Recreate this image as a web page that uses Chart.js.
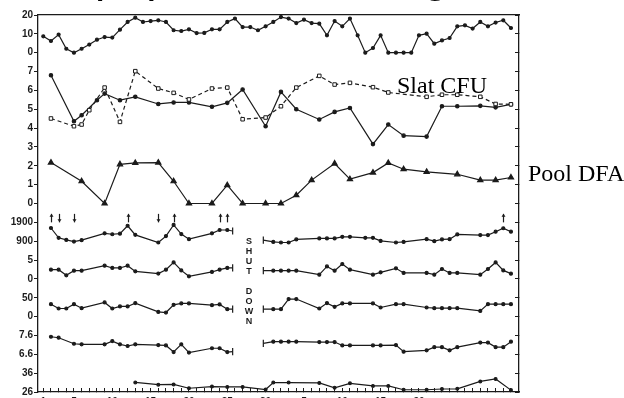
<!DOCTYPE html>
<html>
<head>
<meta charset="utf-8">
<script src="https://cdn.jsdelivr.net/npm/chart.js@4.4.1/dist/chart.umd.min.js"></script>
<style>
  html, body { margin: 0; padding: 0; background: #fff; overflow: hidden; }
  #wrap { width: 624px; height: 398px; overflow: hidden; }
</style>
</head>
<body>
<div id="wrap"><canvas id="chart" width="624" height="420"></canvas></div>
<script>
// tick labels, bottom to top (one per axis unit)
const yTickLabels = ['26', '36', '6.6', '7.6', '0', '50', '0', '5', '900', '1900',
                     '0', '1', '2', '3', '4', '5', '6', '7', '0', '10', '20'];
const xTickDays = [1, 5, 10, 15, 20, 25, 30, 35, 40, 45, 50];
const xTickLabels = ['1', '5', '10', '15', '20', '25', '30', '5', '10', '15', '20'];

// top strip (0 - 20)
const topDays = [1, 2, 3, 4, 5, 6, 7, 8, 9, 10, 11, 12, 13, 14, 15, 16, 17, 18, 19, 20, 21,
                 22, 23, 24, 25, 26, 27, 28, 29, 30, 31, 32, 33, 34, 35, 36, 37, 38, 39, 40, 41,
                 42, 43, 44, 45, 46, 47, 48, 49, 50, 51, 52, 53, 54, 55, 56, 57, 58, 59, 60, 61, 62];
const topVals = [8.7, 6.2, 9.6, 2.1, 0, 2.1, 4.3, 6.9, 8.3, 8, 12.2, 16.3, 18.6, 16.3, 16.8, 17.2,
                 16.3, 11.9, 11.5, 12.4, 10.4, 10.5, 12.4, 12.4, 16.3, 18.1, 13.6, 13.6, 11.9, 14,
                 16.3, 18.9, 18.1, 15.7, 17.5, 15.7, 15.4, 9.2, 16.8, 14, 18.1, 9.2, 0, 2.5, 9.2,
                 0, 0, 0, 0, 9.2, 10.1, 4.8, 6.5, 7.8, 14, 14.5, 12.8, 16.3, 14, 16, 17.2, 13.1];

// middle block (0 - 7)
const cfuDays = [2, 5, 6, 7, 9, 11, 13, 16, 18, 20, 23, 25, 27, 30, 32, 34, 37, 39, 41, 44, 46,
                 51, 53, 55, 58, 60, 62];
const cfuVals = [4.51, 4.1, 4.19, 4.95, 6.15, 4.33, 7.02, 6.1, 5.87, 5.52, 6.1, 6.15, 4.47, 4.56,
                 5.16, 6.15, 6.77, 6.31, 6.4, 6.17, 5.89, 5.66, 5.77, 5.77, 5.66, 5.28, 5.26];
const slatDays = [2, 5, 6, 8, 9, 11, 13, 16, 18, 20, 23, 25, 27, 30, 32, 34, 37, 39, 41, 44, 46,
                  48, 51, 53, 55, 58, 60, 62];
const slatVals = [6.8, 4.36, 4.68, 5.48, 5.83, 5.48, 5.66, 5.28, 5.36, 5.36, 5.13, 5.34, 6.05, 4.1,
                  5.92, 5.0, 4.46, 4.86, 5.07, 3.15, 4.19, 3.6, 3.55, 5.16, 5.16, 5.18, 5.1, 5.26];
const poolDays = [2, 6, 9, 11, 13, 16, 18, 20, 23, 25, 27, 30, 32, 34, 36, 39, 41, 44, 46, 48,
                  51, 55, 58, 60, 62];
const poolVals = [2.17, 1.18, 0, 2.08, 2.15, 2.17, 1.18, 0, 0, 0.97, 0, 0, 0, 0.44, 1.24, 2.12,
                  1.29, 1.64, 2.15, 1.82, 1.68, 1.55, 1.24, 1.24, 1.38];

// lower strips, broken by the shut down
const shutStart = 25.7;
const shutEnd = 29.7;
const lowDaysL = [2, 3, 4, 5, 6, 9, 10, 11, 12, 13, 16, 17, 18, 19, 20, 23, 24, 25, shutStart];
const lowDaysR = [shutEnd, 31, 32, 33, 34, 37, 38, 39, 40, 41, 44, 45, 47, 48, 51, 52, 53, 54, 55,
                  58, 59, 60, 61, 62];
const p3DaysR = [shutEnd, 31, 32, 33, 34, 37, 38, 39, 40, 41, 43, 44, 45, 47, 48, 51, 52, 53, 54,
                 55, 58, 59, 60, 61, 62];
const p6DaysL = [2, 3, 5, 6, 9, 10, 11, 12, 13, 16, 17, 18, 19, 20, 23, 24, 25, shutStart];

const p3ValsL = [1600, 1078, 970, 880, 954, 1316, 1270, 1300, 1720, 1236, 830, 1170, 1765, 1278,
                 1008, 1316, 1495, 1495, 1440];
const p3ValsR = [954, 862, 830, 830, 992, 1046, 1046, 1046, 1132, 1132, 1078, 1078, 916, 830, 862,
                 1008, 900, 992, 1008, 1262, 1224, 1224, 1403, 1586, 1403];
const p4ValsL = [2.45, 2.45, 0.95, 2.18, 2.18, 3.5, 2.9, 2.9, 3.5, 2.0, 1.4, 2.45, 4.37, 2.26,
                 0.68, 1.84, 2.45, 2.9, 2.9];
const p4ValsR = [2.18, 2.18, 2.18, 2.18, 2.18, 1.13, 3.32, 2.18, 3.95, 2.45, 1.13, 1.74, 2.8, 1.58,
                 1.58, 1.13, 2.63, 1.58, 1.58, 1.13, 2.63, 4.37, 2.26, 1.39];
const p5ValsL = [33, 21.5, 21.5, 33, 22.3, 37.6, 21.5, 26.9, 26.9, 35.8, 12.4, 10.8, 31.2, 34.9,
                 34.9, 30.4, 32.3, 19.6, 19.6];
const p5ValsR = [19.6, 19.6, 19.6, 46.5, 46.5, 21.5, 35.8, 25.8, 34.9, 34.9, 34.9, 24.2, 33, 33,
                 24.2, 22.3, 22.3, 22.3, 22.3, 15.1, 33, 33, 33, 33];
const p6ValsL = [7.53, 7.48, 7.16, 7.13, 7.13, 7.3, 7.13, 7.04, 7.13, 7.09, 7.07, 6.72, 7.13, 6.69,
                 6.92, 6.92, 6.72, 6.74];
const p6ValsR = [7.18, 7.27, 7.27, 7.27, 7.27, 7.25, 7.25, 7.25, 7.07, 7.07, 7.07, 7.07, 7.09, 6.74,
                 6.81, 6.98, 6.98, 6.81, 6.98, 7.22, 7.22, 6.98, 6.98, 7.27];
const p7Days = [13, 16, 18, 20, 23, 25, 27, 30, 31, 33, 37, 39, 41, 44, 46, 48, 51, 53, 55, 58, 60, 62];
const p7Vals = [31.1, 29.9, 30.0, 28.0, 28.9, 28.7, 28.7, 27.3, 31.0, 31.0, 30.8, 28.2, 30.6, 29.2,
                29.2, 27.2, 27.2, 27.6, 27.7, 31.6, 32.9, 27.0];

// event arrows above the 1900 strip
const arrowDays = [2, 3, 5, 12, 16, 18, 24, 25, 61];
const arrowDirs = ['up', 'down', 'down', 'up', 'down', 'up', 'up', 'up', 'up'];

const ink = '#1b1b1b';

// each strip is stacked on one 0..20 axis
const toTop = v => 18 + v / 10;
const toMid = v => 10 + v;
const toP3 = v => 8 + (v - 900) / 1000;
const toP4 = v => 6 + v / 5;
const toP5 = v => 4 + v / 50;
const toP6 = v => 2 + (v - 6.6);
const toP7 = v => (v - 26) / 10;

function pts(days, vals, map) {
  return days.map((d, i) => ({ x: d, y: map(vals[i]) }));
}
function broken(daysL, valsL, daysR, valsR, map) {
  return pts(daysL, valsL, map)
    .concat([{ x: (shutStart + shutEnd) / 2, y: null }])
    .concat(pts(daysR, valsR, map));
}

const isBar = c => c.raw && (c.raw.x === shutStart || c.raw.x === shutEnd);
function lineSet(data, extra) {
  return Object.assign({
    data: data,
    borderColor: ink,
    backgroundColor: ink,
    borderWidth: 1.2,
    pointRadius: c => isBar(c) ? 3.6 : 1.5,
    pointStyle: c => isBar(c) ? 'line' : 'circle',
    pointRotation: c => isBar(c) ? 90 : 0,
    pointBorderWidth: 1.2,
    pointBackgroundColor: ink,
    pointBorderColor: ink,
    tension: 0,
    spanGaps: false,
    fill: false
  }, extra || {});
}

const datasets = [
  lineSet(pts(cfuDays, cfuVals, toMid), {
    label: 'Slat CFU', borderDash: [4, 3], pointStyle: 'rect', pointRadius: 2.5,
    pointBackgroundColor: '#fff', pointBorderWidth: 1
  }),
  lineSet(pts(topDays, topVals, toTop), { label: 'top' }),
  lineSet(pts(slatDays, slatVals, toMid), { label: 'Slat', pointRadius: 1.7 }),
  lineSet(pts(poolDays, poolVals, toMid), { label: 'Pool DFA', pointStyle: 'triangle', pointRadius: 3 }),
  lineSet(broken(lowDaysL, p3ValsL, p3DaysR, p3ValsR, toP3), { label: 'p3' }),
  lineSet(broken(lowDaysL, p4ValsL, lowDaysR, p4ValsR, toP4), { label: 'p4' }),
  lineSet(broken(lowDaysL, p5ValsL, lowDaysR, p5ValsR, toP5), { label: 'p5' }),
  lineSet(broken(p6DaysL, p6ValsL, lowDaysR, p6ValsR, toP6), { label: 'p6' }),
  lineSet(pts(p7Days, p7Vals, toP7), { label: 'p7', pointRadius: 1.4 })
];

const tickFont = { family: 'Liberation Sans', weight: 'bold', size: 10 };

const annotate = {
  id: 'annotate',
  afterDraw(chart) {
    const { ctx, scales } = chart;
    const x = scales.x, y = scales.y;
    ctx.save();
    ctx.strokeStyle = ink;
    ctx.fillStyle = ink;
    ctx.lineWidth = 1.2;
    // arrows
    arrowDays.forEach((d, i) => {
      const px = Math.round(x.getPixelForValue(d)) + 0.5;
      const yt = y.getPixelForValue(9.45);
      const yb = y.getPixelForValue(9.0);
      ctx.beginPath();
      ctx.moveTo(px, yt);
      ctx.lineTo(px, yb);
      ctx.stroke();
      const tip = arrowDirs[i] === 'up' ? yt : yb;
      const dir = arrowDirs[i] === 'up' ? 1 : -1;
      ctx.beginPath();
      ctx.moveTo(px, tip);
      ctx.lineTo(px - 2, tip + dir * 3);
      ctx.lineTo(px + 2, tip + dir * 3);
      ctx.closePath();
      ctx.fill();
    });
    // shut down note
    ctx.font = 'bold 9px "Liberation Sans"';
    ctx.textAlign = 'center';
    ctx.textBaseline = 'middle';
    const note = ['S', 'H', 'U', 'T', '', 'D', 'O', 'W', 'N'];
    note.forEach((ch, i) => ctx.fillText(ch, 249, 242 + i * 10));
    // series names
    ctx.fillStyle = '#000';
    ctx.textAlign = 'left';
    ctx.textBaseline = 'alphabetic';
    ctx.font = '24px "Liberation Serif"';
    ctx.fillText('Slat CFU', 397, 93);
    ctx.fillText('Pool DFA', 528, 181);
    // title, mostly above the frame
    ctx.font = '46px "Liberation Sans"';
    ctx.fillText('Slat population during shutdown', 3, -9);
    ctx.restore();
  }
};

new Chart(document.getElementById('chart'), {
  type: 'line',
  data: { datasets: datasets },
  plugins: [annotate],
  options: {
    responsive: false,
    animation: false,
    events: [],
    layout: { padding: { top: 15, right: 105, left: 0, bottom: 0 } },
    plugins: { legend: { display: false }, tooltip: { enabled: false } },
    scales: {
      x: {
        type: 'linear', position: 'bottom', min: 0.31, max: 63.05,
        afterFit: s => { s.height = 28; },
        border: { display: true, color: ink, width: 1.3 },
        grid: { drawOnChartArea: false, tickLength: -4, color: ink, lineWidth: 1 },
        ticks: {
          stepSize: 1, autoSkip: false, includeBounds: false, maxRotation: 0, padding: 8,
          color: ink, font: tickFont,
          callback: v => { const i = xTickDays.indexOf(v); return i >= 0 ? xTickLabels[i] : ''; }
        }
      },
      xTop: {
        type: 'linear', position: 'top', min: 0.31, max: 63.05,
        afterFit: s => { s.height = 0; },
        border: { display: true, color: ink, width: 1.3 },
        grid: { display: false },
        ticks: { display: false }
      },
      y: {
        type: 'linear', position: 'left', min: 0, max: 20,
        afterFit: s => { s.width = 38; },
        border: { display: true, color: ink, width: 1.3 },
        grid: { drawOnChartArea: false, tickLength: 4, color: ink, lineWidth: 1 },
        ticks: {
          stepSize: 1, autoSkip: false, padding: 1, color: ink, font: tickFont,
          callback: v => yTickLabels[v]
        }
      },
      yR: {
        type: 'linear', position: 'right', min: 0, max: 20,
        afterFit: s => { s.width = 0; },
        border: { display: true, color: ink, width: 1.3 },
        grid: { drawOnChartArea: false, tickLength: -4, color: ink, lineWidth: 1 },
        ticks: { display: false, stepSize: 1, autoSkip: false }
      }
    }
  }
});
</script>
</body>
</html>
